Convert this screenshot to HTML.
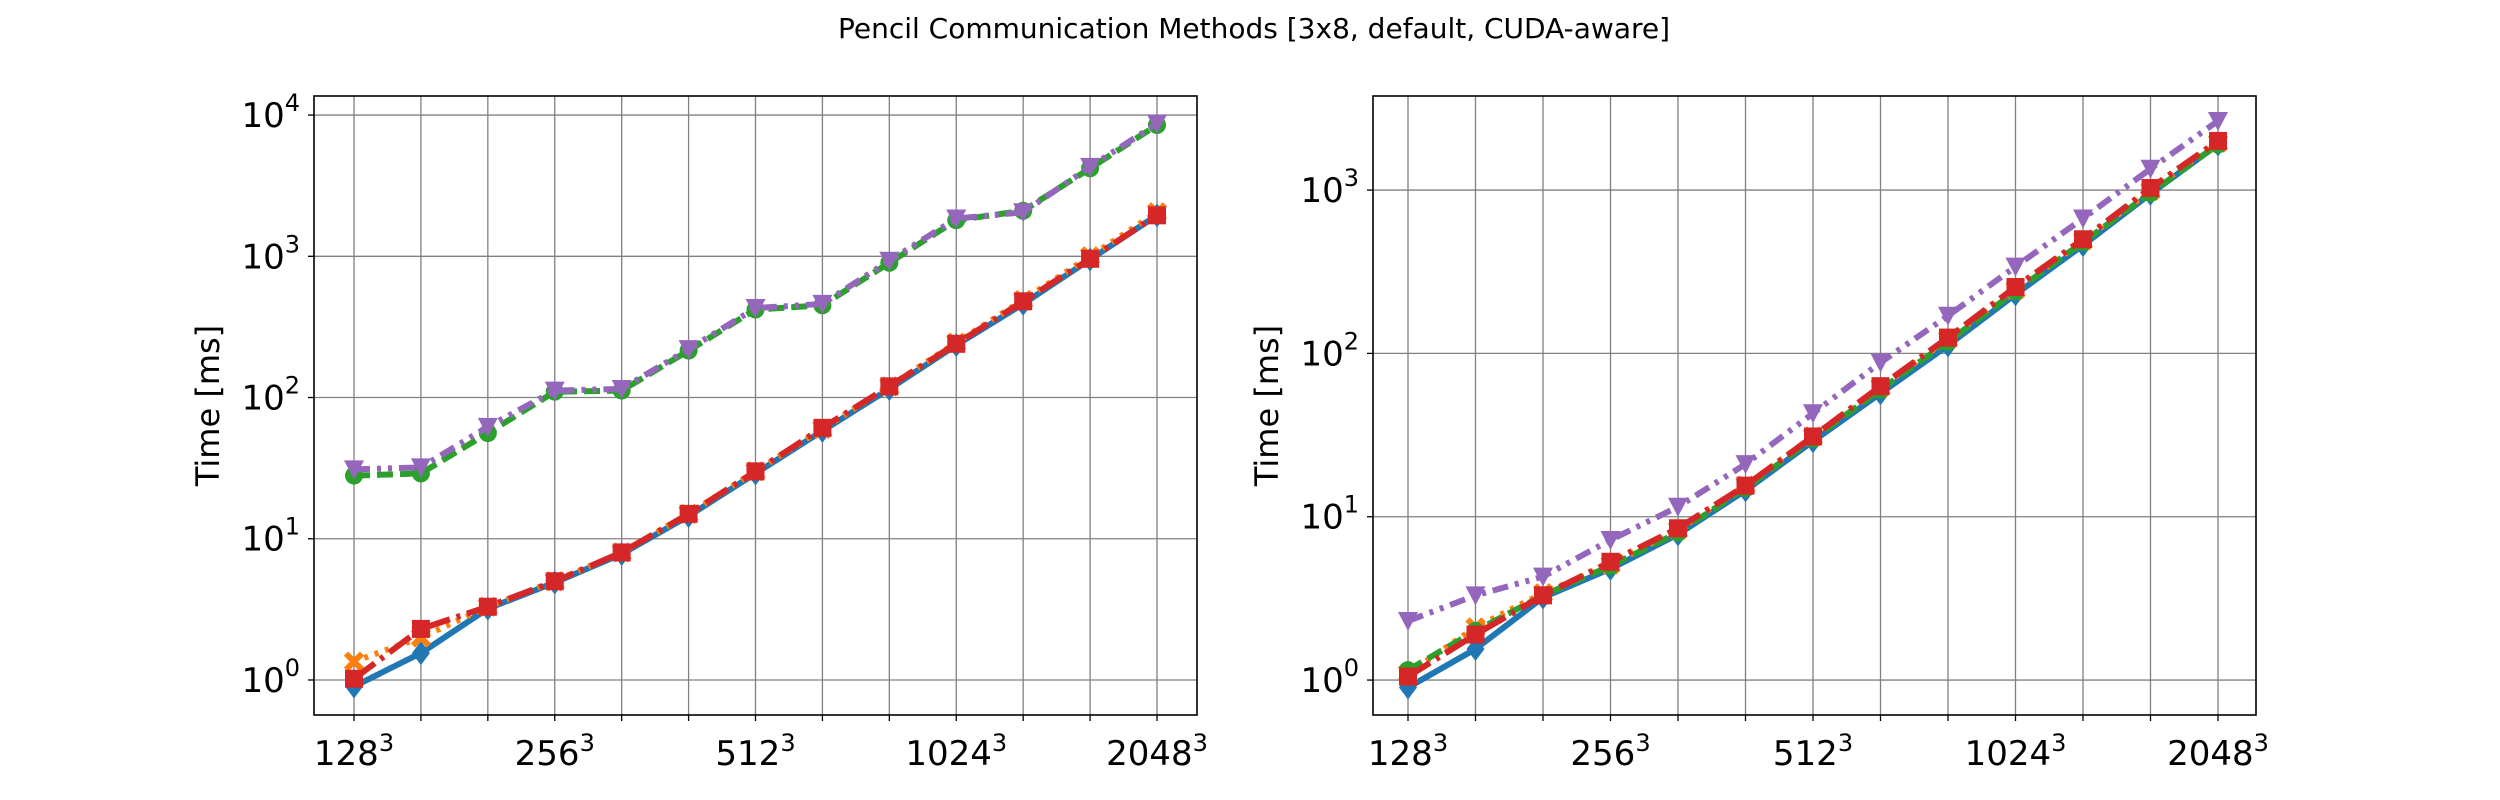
<!DOCTYPE html>
<html><head><meta charset="utf-8"><style>
html,body{margin:0;padding:0;background:#fff;}
svg{display:block;font-family:"DejaVu Sans","Liberation Sans",sans-serif;}
</style></head><body>
<svg id="fig" width="2500" height="800" viewBox="0 0 2500 800" xmlns="http://www.w3.org/2000/svg">
<rect width="2500" height="800" fill="#fff"/>
<text x="1254" y="38" font-size="28" text-anchor="middle">Pencil Communication Methods [3x8, default, CUDA-aware]</text>
</svg>
<script>
const xLabels = ["128","","","256","","","512","","","1024","","","2048"];
const leftBlue = [0.9,1.55,3.2,4.9,7.8,14.5,29,58,115,235,460,950,1950];
const leftOrange = [1.35,2.0,3.3,5,8,15,30,60,120,245,490,1000,2050];
const leftGreen = [28,29,56,110,112,215,420,450,900,1800,2100,4200,8500];
const leftRed = [1.02,2.3,3.3,5,8,15,30,61,120,240,480,960,1950];
const leftPurple = [31,32,62,112,115,220,430,460,930,1850,2050,4300,8700];
const rightBlue = [0.9,1.55,3.2,4.8,7.8,14.5,29,57,112,230,460,950,1900];
const rightOrange = [1.1,2.1,3.4,5.1,8.3,15.5,31,62,122,245,490,990,1950];
const rightGreen = [1.15,2.0,3.3,5.0,8.0,15,30,60,118,240,480,960,1900];
const rightRed = [1.05,1.9,3.3,5.3,8.5,15.5,31,63,125,255,500,1030,2000];
const rightPurple = [2.3,3.3,4.3,7.2,11.5,21,43,88,170,340,670,1350,2650];
const leftDecades = [0,1,2,3,4];
const rightDecades = [0,1,2,3];

const NS="http://www.w3.org/2000/svg";
const svg=document.getElementById('fig');
function mk(tag,attrs,parent){const e=document.createElementNS(NS,tag);for(const k in attrs)e.setAttribute(k,attrs[k]);(parent||svg).appendChild(e);return e;}

const styles={
 blue:{c:"#1f77b4",dash:"",m:"diamond"},
 orange:{c:"#ff7f0e",dash:"4,7",m:"x"},
 green:{c:"#2ca02c",dash:"16,7",m:"circle"},
 red:{c:"#d62728",dash:"26,7,4,7",m:"square"},
 purple:{c:"#9467bd",dash:"16,7,4,7,4,7",m:"tri"}
};

function panel(name,L,R,T,B,x0px,x1px,logMin,logMax,decades,series){
  const g=mk('g',{});
  
  
  const n=xLabels.length;
  const X=i=>x0px+(x1px-x0px)*i/(n-1);
  const Y=v=>B-(Math.log10(v)-logMin)/(logMax-logMin)*(B-T);
  for(let i=0;i<n;i++){
    const gl=mk('line',{x1:X(i),x2:X(i),y1:T,y2:B,stroke:"#808080","stroke-width":1.3},g);
    
    
    const tk=mk('line',{x1:X(i),x2:X(i),y1:B,y2:B+6,stroke:"#000","stroke-width":1.3},g);
    
    
    if(xLabels[i]){
      const t=mk('text',{x:X(i),y:B+50,"font-size":34,"text-anchor":"middle"},g);
      
      
      t.textContent=xLabels[i];
      const s=mk('tspan',{dy:-14,"font-size":24},t);s.textContent="3";
    }
  }
  decades.forEach(d=>{
    const y=Y(Math.pow(10,d));
    const gl=mk('line',{x1:L,x2:R,y1:y,y2:y,stroke:"#808080","stroke-width":1.3},g);
    
    
    const tk=mk('line',{x1:L-6,x2:L,y1:y,y2:y,stroke:"#000","stroke-width":1.3},g);
    
    
    const t=mk('text',{x:L-14,y:y+12,"font-size":34,"text-anchor":"end"},g);
    
    
    t.textContent="10";
    const s=mk('tspan',{dy:-16,"font-size":24},t);s.textContent=String(d);
  });
  const yl=mk('text',{x:0,y:0,"font-size":32,"text-anchor":"middle",transform:`translate(${L-95},${(T+B)/2}) rotate(-90)`},g);
  
  
  yl.textContent="Time [ms]";
  series.forEach(([key,vals])=>{
    const st=styles[key];
    const pts=vals.map((v,i)=>X(i).toFixed(1)+","+Y(v).toFixed(1)).join(" ");
    const pl=mk('polyline',{points:pts,fill:"none",stroke:st.c,"stroke-width":6,"stroke-dasharray":st.dash,"stroke-linejoin":"round"},g);
    
    
    vals.forEach((v,i)=>{
      const x=X(i),y=Y(v);let m;
      if(st.m==="diamond")m=mk('polygon',{points:`${x},${y-12} ${x+9},${y} ${x},${y+12} ${x-9},${y}`,fill:st.c},g);
      else if(st.m==="x")m=mk('path',{d:`M${x-8},${y-8}L${x+8},${y+8}M${x+8},${y-8}L${x-8},${y+8}`,stroke:st.c,"stroke-width":6},g);
      else if(st.m==="circle")m=mk('circle',{cx:x,cy:y,r:9,fill:st.c},g);
      else if(st.m==="square")m=mk('rect',{x:x-9,y:y-9,width:18,height:18,fill:st.c},g);
      else m=mk('polygon',{points:`${x-10},${y-9} ${x+10},${y-9} ${x},${y+10}`,fill:st.c},g);
      
      
    });
  });
  const fr=mk('rect',{x:L,y:T,width:R-L,height:B-T,fill:"none",stroke:"#000","stroke-width":1.6},g);
  
  
}
panel('left-panel',314,1197,96,715,354,1157,-0.248,4.135,leftDecades,
 [["blue",leftBlue],["orange",leftOrange],["green",leftGreen],["red",leftRed],["purple",leftPurple]]);
panel('right-panel',1373,2256,96,715,1408,2218,-0.214,3.576,rightDecades,
 [["blue",rightBlue],["orange",rightOrange],["green",rightGreen],["red",rightRed],["purple",rightPurple]]);
</script>
</body></html>
